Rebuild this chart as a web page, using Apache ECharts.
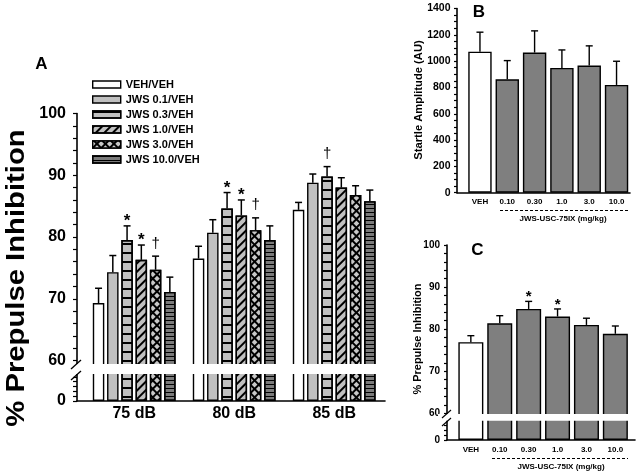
<!DOCTYPE html>
<html><head><meta charset="utf-8">
<script src="https://cdn.jsdelivr.net/npm/echarts@6/dist/echarts.min.js"></script>
<style>html,body{margin:0;padding:0;background:#fff}#c{width:640px;height:471px}</style>
</head><body><div id="c"></div>
<script>
const FONT = '"Liberation Sans", Arial, Helvetica, sans-serif';

// ---------- Panel A data ----------
const aCategories = ['75 dB', '80 dB', '85 dB'];
const aSeriesNames = ['VEH/VEH', 'JWS 0.1/VEH', 'JWS 0.3/VEH', 'JWS 1.0/VEH', 'JWS 3.0/VEH', 'JWS 10.0/VEH'];
const aMeans = [
  [69.3, 76.5, 84.4],
  [74.3, 80.7, 88.8],
  [79.5, 84.6, 89.8],
  [76.3, 83.5, 88.0],
  [74.7, 81.1, 86.8],
  [71.1, 79.5, 85.8]
];
const aSem = [
  [2.4, 2.0, 1.2],
  [2.7, 2.1, 1.4],
  [2.3, 2.6, 1.6],
  [2.4, 2.5, 1.6],
  [2.2, 2.0, 1.5],
  [2.4, 2.3, 1.8]
];
const aMarks = [
  ['', '', ''],
  ['', '', ''],
  ['*', '*', '†'],
  ['*', '*', ''],
  ['†', '†', ''],
  ['', '', '']
];
const aYLabels = [60, 70, 80, 90, 100];
const aYTicks = [60, 62, 64, 66, 68, 70, 72, 74, 76, 78, 80, 82, 84, 86, 88, 90, 92, 94, 96, 98, 100];
const aLowLabels = [0];
const aLowTicks = [0, 2, 4, 6, 8, 10];

// ---------- Panel B data ----------
const bCategories = ['VEH', '0.10', '0.30', '1.0', '3.0', '10.0'];
const bMeans = [1072, 862, 1065, 948, 966, 819];
const bSem = [148, 142, 165, 137, 150, 180];
const bYLabels = [0, 200, 400, 600, 800, 1000, 1200, 1400];
const bYTicks = [0, 50, 100, 150, 200, 250, 300, 350, 400, 450, 500, 550, 600, 650, 700, 750, 800, 850, 900, 950, 1000, 1050, 1100, 1150, 1200, 1250, 1300, 1350, 1400];

// ---------- Panel C data ----------
const cCategories = ['VEH', '0.10', '0.30', '1.0', '3.0', '10.0'];
const cMeans = [76.9, 81.4, 84.8, 83.0, 81.0, 78.9];
const cSem = [1.55, 1.8, 1.8, 1.8, 1.6, 1.85];
const cMarks = ['', '', '*', '*', '', ''];
const cYLabels = [60, 70, 80, 90, 100];
const cYTicks = [60, 62, 64, 66, 68, 70, 72, 74, 76, 78, 80, 82, 84, 86, 88, 90, 92, 94, 96, 98, 100];
const cLowLabels = [0];
const cLowTicks = [0, 2, 4, 6];

// ---------- styles ----------
const aStyles = [
  { color: '#ffffff' },
  { color: '#c0c0c0' },
  { color: '#c0c0c0', decal: { symbol: 'rect', symbolSize: 1, color: '#000', dashArrayX: [1, 0], dashArrayY: [1.3, 6.7], rotation: 0 } },
  { color: '#c0c0c0', decal: { symbol: 'rect', symbolSize: 1, color: '#000', dashArrayX: [1, 0], dashArrayY: [1.2, 3.8], rotation: -Math.PI / 4 } },
  { color: '#000000', decal: { symbol: 'rect', symbolSize: 1, color: '#c8c8c8', dashArrayX: [3.4, 1.2], dashArrayY: [3.4, 1.2], rotation: Math.PI / 4 } },
  { color: '#7a7a7a', decal: { symbol: 'rect', symbolSize: 1, color: '#000', dashArrayX: [1, 0], dashArrayY: [1, 2.3], rotation: 0 } }
];
const bw = 11.5, bgap = 0.24;
const step = bw * (1 + bgap);

function errRender(offsetX, capHalf, lw, marks, markFont, markShift) {
  return function (params, api) {
    const x = api.value(0), m = api.value(1), s = api.value(2);
    const p0 = api.coord([x, m]);
    const p1 = api.coord([x, m + s]);
    const cx = p0[0] + offsetX;
    const children = [
      { type: 'line', shape: { x1: cx, y1: p0[1], x2: cx, y2: p1[1] }, style: { stroke: '#000', lineWidth: lw } },
      { type: 'line', shape: { x1: cx - capHalf, y1: p1[1], x2: cx + capHalf, y2: p1[1] }, style: { stroke: '#000', lineWidth: lw } }
    ];
    const mk = marks ? marks[params.dataIndex] : '';
    if (mk) {
      const isStar = mk === '*';
      children.push({
        type: 'text',
        style: {
          text: mk, x: cx, y: p1[1] - (isStar ? markShift[0] : markShift[1]),
          textAlign: 'center', textVerticalAlign: 'top',
          font: isStar ? markFont[0] : markFont[1], fill: '#000'
        }
      });
    }
    return { type: 'group', children };
  };
}

const grids = [
  { left: 84.2, top: 113.5, width: 300, height: 252.5 },   // 0 A upper
  { left: 84.2, top: 372, width: 300, height: 29 },        // 1 A lower
  { left: 77, top: 300, width: 308, height: 101 },         // 2 A baseline
  { left: 466.3, top: 8.5, width: 163.9, height: 184.2 },  // 3 B
  { left: 457, top: 100, width: 173, height: 92.7 },       // 4 B baseline
  { left: 456.4, top: 245, width: 173.4, height: 171 },    // 5 C upper
  { left: 456.4, top: 419, width: 173.4, height: 21 },     // 6 C lower
  { left: 447, top: 400, width: 188, height: 40 }          // 7 C baseline
].map(g => Object.assign({ outerBoundsMode: 'none', containLabel: false }, g));

function hiddenCat(grid, data) {
  return { type: 'category', gridIndex: grid, data, show: false };
}
function labelCat(grid, data, size, margin) {
  return {
    type: 'category', gridIndex: grid, data,
    axisLine: { show: false }, axisTick: { show: false }, splitLine: { show: false },
    axisLabel: { color: '#000', fontFamily: FONT, fontWeight: 'bold', fontSize: size, margin, interval: 0 }
  };
}
function baseLine(grid) {
  return {
    type: 'value', gridIndex: grid, min: 0, max: 1,
    axisLine: { show: true, onZero: false, lineStyle: { color: '#000', width: 1.6 } },
    axisTick: { show: false }, axisLabel: { show: false }, splitLine: { show: false }
  };
}
function valAxis(grid, min, max, offset, labels, ticks, size, tickLen, margin) {
  return {
    type: 'value', gridIndex: grid, min, max, offset,
    axisLine: { show: true, lineStyle: { color: '#000', width: 1.6 } },
    axisTick: { show: true, customValues: ticks, length: tickLen, lineStyle: { color: '#000', width: 1.2 } },
    axisLabel: {
      show: true, customValues: labels, color: '#000', fontFamily: FONT, fontWeight: 'bold',
      fontSize: size, margin, formatter: v => String(v)
    },
    splitLine: { show: false }
  };
}

const xAxes = [
  hiddenCat(0, aCategories),
  labelCat(1, aCategories, 16, 5),
  baseLine(2),
  labelCat(3, bCategories, 8, 5),
  baseLine(4),
  hiddenCat(5, cCategories),
  labelCat(6, cCategories, 8, 6),
  baseLine(7)
];
const yAxes = [
  valAxis(0, 59.11, 100, 7.2, aYLabels, aYTicks, 16, 4, 11),
  valAxis(1, 0, 12, 7.2, aLowLabels, aLowTicks, 16, 4, 11),
  { type: 'value', gridIndex: 2, show: false },
  valAxis(3, 0, 1400, 9.3, bYLabels, bYTicks, 10.5, 3, 6.5),
  { type: 'value', gridIndex: 4, show: false },
  valAxis(5, 59.36, 100, 9.4, cYLabels, cYTicks, 10, 3, 7),
  valAxis(6, 0, 8.4, 9.4, cLowLabels, cLowTicks, 10, 3, 7),
  { type: 'value', gridIndex: 7, show: false }
];

const series = [];
aSeriesNames.forEach((name, i) => {
  const st = Object.assign({ borderColor: '#000', borderWidth: 1.4 }, aStyles[i]);
  series.push({ type: 'bar', name, xAxisIndex: 0, yAxisIndex: 0, data: aMeans[i], barWidth: bw, barGap: (bgap * 100) + '%', itemStyle: st, clip: true, silent: true });
  series.push({ type: 'bar', name, xAxisIndex: 1, yAxisIndex: 1, data: aMeans[i], barWidth: bw, barGap: (bgap * 100) + '%', itemStyle: st, clip: true, silent: true });
});
aSeriesNames.forEach((name, i) => {
  series.push({
    type: 'custom', xAxisIndex: 0, yAxisIndex: 0, z: 5, clip: false, silent: true,
    data: aMeans[i].map((m, j) => [j, m, aSem[i][j]]),
    renderItem: errRender((i - 2.5) * step, 3.5, 1.5, aMarks[i],
      ['bold 17px ' + FONT, '15px ' + FONT], [13, 20])
  });
});

const bColors = bMeans.map((v, i) => i === 0 ? '#ffffff' : '#7f7f7f');
series.push({
  type: 'bar', xAxisIndex: 3, yAxisIndex: 3, barWidth: 23.4, silent: true,
  data: bMeans.map((v, i) => ({ value: v, itemStyle: { color: bColors[i] } })),
  itemStyle: { borderColor: '#000', borderWidth: 1.4 }
});
series.push({
  type: 'custom', xAxisIndex: 3, yAxisIndex: 3, z: 5, clip: false, silent: true,
  data: bMeans.map((m, j) => [j, m, bSem[j]]),
  renderItem: errRender(0, 3.5, 1.4, null, null, null)
});

const cColors = cMeans.map((v, i) => i === 0 ? '#ffffff' : '#7f7f7f');
[5, 6].forEach(ax => {
  series.push({
    type: 'bar', xAxisIndex: ax, yAxisIndex: ax, barWidth: 25, clip: true, silent: true,
    data: cMeans.map((v, i) => ({ value: v, itemStyle: { color: cColors[i] } })),
    itemStyle: { borderColor: '#000', borderWidth: 1.4 }
  });
});
series.push({
  type: 'custom', xAxisIndex: 5, yAxisIndex: 5, z: 5, clip: false, silent: true,
  data: cMeans.map((m, j) => [j, m, cSem[j]]),
  renderItem: errRender(0, 3.5, 1.4, cMarks, ['bold 15px ' + FONT, '13px ' + FONT], [12, 16])
});

const graphics = [
  // break bands
  { type: 'rect', shape: { x: 66, y: 364, width: 326, height: 10 }, style: { fill: '#fff' }, z: 100 },
  { type: 'rect', shape: { x: 438, y: 414, width: 202, height: 6.8 }, style: { fill: '#fff' }, z: 100 },
  // break slashes
  { type: 'line', shape: { x1: 71, y1: 369, x2: 81, y2: 360 }, style: { stroke: '#000', lineWidth: 1.3 }, z: 101 },
  { type: 'line', shape: { x1: 71, y1: 380, x2: 81, y2: 371 }, style: { stroke: '#000', lineWidth: 1.3 }, z: 101 },
  { type: 'line', shape: { x1: 442, y1: 418, x2: 451, y2: 410 }, style: { stroke: '#000', lineWidth: 1.2 }, z: 101 },
  { type: 'line', shape: { x1: 442, y1: 426, x2: 451, y2: 418 }, style: { stroke: '#000', lineWidth: 1.2 }, z: 101 },
  // panel letters
  { type: 'text', x: 41.5, y: 64, style: { text: 'A', font: 'bold 17px ' + FONT, textAlign: 'center', textVerticalAlign: 'middle', fill: '#000' }, z: 101 },
  { type: 'text', x: 479, y: 12, style: { text: 'B', font: 'bold 17px ' + FONT, textAlign: 'center', textVerticalAlign: 'middle', fill: '#000' }, z: 101 },
  { type: 'text', x: 477.5, y: 250, style: { text: 'C', font: 'bold 17px ' + FONT, textAlign: 'center', textVerticalAlign: 'middle', fill: '#000' }, z: 101 },
  // axis titles
  { type: 'text', x: 17, y: 278, rotation: Math.PI / 2, scaleX: 1.17, style: { text: '% Prepulse Inhibition', font: 'bold 25px ' + FONT, textAlign: 'center', textVerticalAlign: 'middle', fill: '#000' }, z: 101 },
  { type: 'text', x: 419, y: 100, rotation: Math.PI / 2, scaleX: 1.12, style: { text: 'Startle Amplitude (AU)', font: 'bold 10px ' + FONT, textAlign: 'center', textVerticalAlign: 'middle', fill: '#000' }, z: 101 },
  { type: 'text', x: 418, y: 339, rotation: Math.PI / 2, scaleX: 1.09, style: { text: '% Prepulse Inhibition', font: 'bold 10px ' + FONT, textAlign: 'center', textVerticalAlign: 'middle', fill: '#000' }, z: 101 },
  // dosing brackets
  { type: 'line', shape: { x1: 500, y1: 210.5, x2: 629, y2: 210.5 }, style: { stroke: '#000', lineWidth: 1, lineDash: [3, 2] }, z: 101 },
  { type: 'text', x: 563, y: 218.5, style: { text: 'JWS-USC-75IX (mg/kg)', font: 'bold 8px ' + FONT, textAlign: 'center', textVerticalAlign: 'middle', fill: '#000' }, z: 101 },
  { type: 'line', shape: { x1: 492, y1: 458.5, x2: 628, y2: 458.5 }, style: { stroke: '#000', lineWidth: 1, lineDash: [3, 2] }, z: 101 },
  { type: 'text', x: 561, y: 466.5, style: { text: 'JWS-USC-75IX (mg/kg)', font: 'bold 8px ' + FONT, textAlign: 'center', textVerticalAlign: 'middle', fill: '#000' }, z: 101 }
];

const chart = echarts.init(document.getElementById('c'), null, { renderer: 'canvas' });
chart.setOption({
  animation: false,
  backgroundColor: '#fff',
  legend: {
    data: aSeriesNames, orient: 'vertical', left: 92, top: 79,
    icon: 'rect', itemWidth: 28, itemHeight: 7, itemGap: 4, padding: 0,
    selectedMode: false,
    itemStyle: { borderColor: '#000', borderWidth: 1.4 },
    textStyle: { color: '#000', fontFamily: FONT, fontWeight: 'bold', fontSize: 11, lineHeight: 11 }
  },
  grid: grids,
  xAxis: xAxes,
  yAxis: yAxes,
  series,
  graphic: graphics
});
</script>
</body></html>
